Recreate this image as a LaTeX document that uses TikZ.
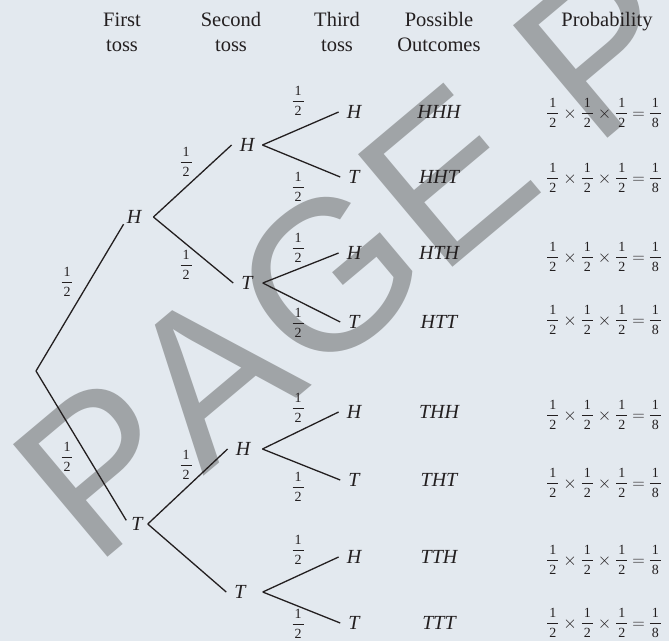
\documentclass[tikz,border=0pt]{standalone}
\usepackage{fontspec}
\setmainfont{Liberation Serif}
\newfontfamily\wmfont[Kerning=Off]{Liberation Sans}
\definecolor{bg}{HTML}{E3E9EF}
\definecolor{wm}{HTML}{A0A4A7}
\definecolor{ink}{HTML}{231F20}
\newcommand\hf[1]{\mbox{\raisebox{1.2pt}{\fontsize{14}{16}\selectfont$\displaystyle{\mbox{\kern2pt 1\kern2pt}\above 1pt\mbox{\kern2pt #1\kern2pt}}$}}}
\newcommand\probexpr{{\medmuskip=4mu\thickmuskip=4mu$\hf{2}\times\hf{2}\times\hf{2}=\hf{8}$}}
\begin{document}
\begin{tikzpicture}[x=1pt,y=-1pt,
  every node/.style={text=ink, font=\fontsize{20.5}{25}\selectfont},
  letter/.style={inner xsep=8pt, inner ysep=3pt, font=\fontsize{20}{24}\selectfont\itshape},
  lbl/.style={inner sep=0pt},
  hdr/.style={inner sep=0pt, anchor=base},
  outc/.style={inner sep=0pt, font=\fontsize{20}{24}\selectfont\itshape},
  prob/.style={inner sep=0pt, anchor=west, font=\fontsize{19}{24}\selectfont},
  branch/.style={draw=ink, line width=1.3pt},
  watermark/.style={inner sep=0pt, anchor=base west, rotate=40, text=wm,
    font=\wmfont\fontsize{213.5}{213.5}\selectfont}]
\fill[bg] (0,0) rectangle (669,641);
\useasboundingbox (0,0) rectangle (669,641);
% watermark
\node[watermark] (wmark) at (94.4,568.6) {PAGE PROOF};
% headers
\node[hdr] (h1a) at (122,26.5) {First};
\node[hdr] (h1b) at (122,51.5) {toss};
\node[hdr] (h2a) at (231,26.5) {Second};
\node[hdr] (h2b) at (231,51.5) {toss};
\node[hdr] (h3a) at (337,26.5) {Third};
\node[hdr] (h3b) at (337,51.5) {toss};
\node[hdr] (h4a) at (439,26) {Possible};
\node[hdr] (h4b) at (439,51) {Outcomes};
\node[hdr] (h5a) at (607,26) {Probability};
% tree
\coordinate (root) at (36,371);
\node[letter] (H) at (134,217) {H};
\node[letter] (T) at (137,524) {T};
\node[letter] (HH) at (247,145) {H};
\node[letter] (HT) at (247,283) {T};
\node[letter] (TH) at (243,449) {H};
\node[letter] (TT) at (240,592) {T};
\node[letter] (HHH) at (354,112) {H};
\node[letter] (HHT) at (354,177) {T};
\node[letter] (HTH) at (354,253) {H};
\node[letter] (HTT) at (354,322) {T};
\node[letter] (THH) at (354,412) {H};
\node[letter] (THT) at (354,480) {T};
\node[letter] (TTH) at (354,557) {H};
\node[letter] (TTT) at (354,623) {T};
\draw[branch] (root) -- ([xshift=5pt]H.205);
\draw[branch] (root) -- ([xshift=3pt]T.165);
\draw[branch] ([xshift=4pt]H.east) -- (HH.west);
\draw[branch] ([xshift=4pt]H.east) -- (HT.west);
\draw[branch] ([xshift=-3pt]T.east) -- (TH.west);
\draw[branch] ([xshift=-3pt]T.east) -- (TT.west);
\draw[branch] (HH.east) -- (HHH.west);
\draw[branch] (HH.east) -- (HHT.west);
\draw[branch] ([xshift=2pt]HT.east) -- (HTH.west);
\draw[branch] ([xshift=2pt]HT.east) -- (HTT.west);
\draw[branch] ([xshift=4pt]TH.east) -- (THH.west);
\draw[branch] ([xshift=4pt]TH.east) -- (THT.west);
\draw[branch] ([xshift=9pt]TT.east) -- (TTH.west);
\draw[branch] ([xshift=9pt]TT.east) -- (TTT.west);
% edge labels
\node[lbl] (p1) at (67,282) {\hf{2}};
\node[lbl] (p2) at (67,457) {\hf{2}};
\node[lbl] (p3) at (186,162) {\hf{2}};
\node[lbl] (p4) at (186,265) {\hf{2}};
\node[lbl] (p5) at (186,465) {\hf{2}};
\node[lbl] (p6) at (298,101) {\hf{2}};
\node[lbl] (p7) at (298,187) {\hf{2}};
\node[lbl] (p8) at (298,248) {\hf{2}};
\node[lbl] (p9) at (298,323) {\hf{2}};
\node[lbl] (p10) at (298,408) {\hf{2}};
\node[lbl] (p11) at (298,487) {\hf{2}};
\node[lbl] (p12) at (298,550) {\hf{2}};
\node[lbl] (p13) at (298,624) {\hf{2}};
% outcomes
\node[outc] (o1) at (439,112) {HHH};
\node[outc] (o2) at (439,177) {HHT};
\node[outc] (o3) at (439,253) {HTH};
\node[outc] (o4) at (439,322) {HTT};
\node[outc] (o5) at (439,412) {THH};
\node[outc] (o6) at (439,480) {THT};
\node[outc] (o7) at (439,557) {TTH};
\node[outc] (o8) at (439,623) {TTT};
% probabilities
\node[prob] (r1) at (546,113) {\probexpr};
\node[prob] (r2) at (546,178) {\probexpr};
\node[prob] (r3) at (546,257) {\probexpr};
\node[prob] (r4) at (546,320) {\probexpr};
\node[prob] (r5) at (546,415) {\probexpr};
\node[prob] (r6) at (546,483) {\probexpr};
\node[prob] (r7) at (546,560) {\probexpr};
\node[prob] (r8) at (546,623) {\probexpr};
\end{tikzpicture}
\end{document}
